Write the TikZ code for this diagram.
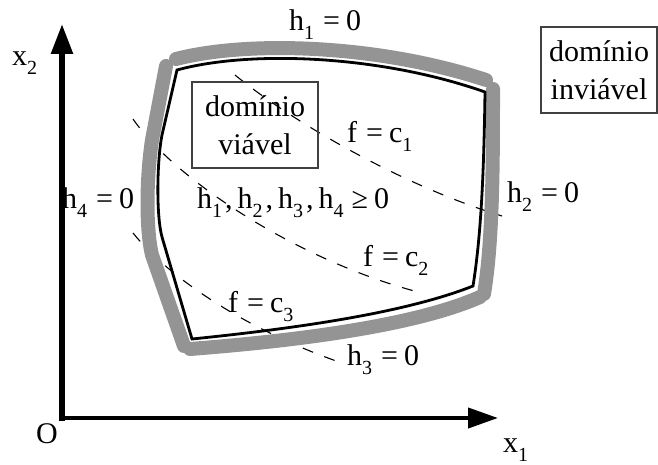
\documentclass[tikz,border=0pt]{standalone}
\usepackage{fontspec}
\setmainfont{Liberation Serif}
\usetikzlibrary{arrows.meta}
\newcommand\sbx[1]{\raisebox{-0.3em}{\fontsize{20}{20}\selectfont #1}}
\tikzset{
  lbl/.style={inner sep=0pt, anchor=base west, font=\fontsize{30}{38}\selectfont},
  dombox/.style={draw=black!75, line width=1.1pt, inner sep=0pt, align=center,
                 font=\fontsize{30}{38}\selectfont},
  band/.style={line width=14pt, draw=black!42, line cap=round, line join=round},
  edge/.style={line width=2.8pt, draw=black, line join=miter},
  level/.style={line width=1.1pt, draw=black, dash pattern=on 11pt off 12pt},
  axis/.style={draw=black, line cap=rect}
}
\begin{document}
\begin{tikzpicture}[x=1pt,y=-1pt]
\useasboundingbox (0,0) rectangle (658,465);

% axes
\coordinate (O) at (62,418);
\coordinate (ytip) at (62,24);
\coordinate (xtip) at (498,418);
\draw[axis, line width=5.5pt, -{Triangle[length=30pt,width=21pt]}] (O) -- (ytip);
\draw[axis, line width=4pt, -{Triangle[length=30pt,width=20pt]}] (O) -- (xtip);

% level curves (dashed)
\coordinate (l1a) at (235,75);  \coordinate (l1b) at (502,216);
\coordinate (l2a) at (133,119); \coordinate (l2b) at (422,293);
\coordinate (l3a) at (133,233); \coordinate (l3b) at (342,363);
\draw[level] (l1a) .. controls (290,120) and (400,185) .. (l1b);
\draw[level] (l2a) .. controls (175,180) and (300,262) .. (l2b);
\draw[level] (l3a) .. controls (175,285) and (260,335) .. (l3b);

% constraint bands
\coordinate (b1a) at (176,59);  \coordinate (b1b) at (486,80);
\coordinate (b2a) at (493,89);  \coordinate (b2b) at (484,294);
\coordinate (b3a) at (190,349); \coordinate (b3b) at (480,297);
\coordinate (b4a) at (166,66);  \coordinate (b4b) at (184,346);
\draw[band] (b1a) .. controls (250,40) and (380,45) .. (b1b);
\draw[band] (b2a) .. controls (493,160) and (493,240) .. (b2b);
\draw[band] (b3a) .. controls (280,342) and (410,328) .. (b3b);
\draw[band] (b4a) -- (152,140) .. controls (146,180) and (146,230) .. (152,255) -- (b4b);

% feasible region boundary
\coordinate (c1) at (177,70);
\coordinate (c2) at (485,92);
\coordinate (c3) at (473,286);
\coordinate (c4) at (192,339);
\draw[edge] (c1) .. controls (250,50) and (380,55) .. (c2)
  .. controls (484,160) and (482,230) .. (c3)
  .. controls (400,315) and (280,330) .. (c4)
  -- (162,237) .. controls (156,215) and (157,160) .. (162,135) -- cycle;

% boxes
\node[dombox, minimum width=126pt, minimum height=86pt] (viavel) at (255,125)
  {dom\'inio\\vi\'avel};
\node[dombox, minimum width=116pt, minimum height=86pt] (inviavel) at (599,70)
  {dom\'inio\\invi\'avel};

% labels
\node[lbl] (x2) at (12,66) {x\sbx{2}};
\node[lbl] (orig) at (36,443) {O};
\node[lbl] (x1) at (503,452) {x\sbx{1}};
\node[lbl] (h1) at (289,31) {h\sbx{1}\hspace{9pt}=\hspace{6pt}0};
\node[lbl] (h2) at (507,203) {h\sbx{2}\hspace{9pt}=\hspace{6pt}0};
\node[lbl] (h3) at (347,365) {h\sbx{3}\hspace{9pt}=\hspace{6pt}0};
\node[lbl] (h4) at (62,208) {h\sbx{4}\hspace{9pt}=\hspace{6pt}0};
\node[lbl] (f1) at (347,143) {f\hspace{9pt}=\hspace{6pt}c\sbx{1}};
\node[lbl] (f2) at (363,266) {f\hspace{9pt}=\hspace{6pt}c\sbx{2}};
\node[lbl] (f3) at (228,312) {f\hspace{9pt}=\hspace{6pt}c\sbx{3}};
\node[lbl] (hall) at (197,208) {h\sbx{1}\kern3pt,\kern5pt h\sbx{2}\kern3pt,\kern5pt h\sbx{3}\kern3pt,\kern5pt h\sbx{4}\hspace{8pt}≥\hspace{6pt}0};
\end{tikzpicture}
\end{document}
